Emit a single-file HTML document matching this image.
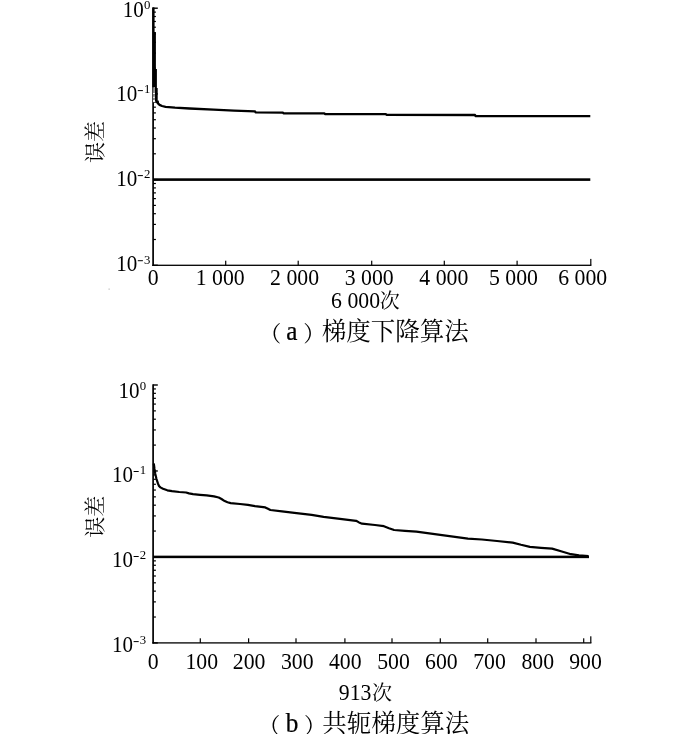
<!DOCTYPE html>
<html><head><meta charset="utf-8"><title>chart</title>
<style>html,body{margin:0;padding:0;background:#fff;}body{width:700px;height:734px;overflow:hidden;font-family:"Liberation Serif",serif;}svg{display:block;will-change:transform}</style>
</head><body>
<svg width="700" height="734" viewBox="0 0 700 734">
<rect width="700" height="734" fill="#fff"/>
<title>误差 — (a) 梯度下降算法 6 000次; (b) 共轭梯度算法 913次</title>
<g fill="#000" stroke="none" font-family="'Liberation Serif', 'Noto Serif CJK SC', serif">
<rect x="152.25" y="7.50" width="1.7" height="258.50"/>
<rect x="152.25" y="264.65" width="439.15" height="1.3"/>
<rect x="225.10" y="260.70" width="1.2" height="4.6"/>
<rect x="297.60" y="260.70" width="1.2" height="4.6"/>
<rect x="371.10" y="260.70" width="1.2" height="4.6"/>
<rect x="443.70" y="260.70" width="1.2" height="4.6"/>
<rect x="516.50" y="260.70" width="1.2" height="4.6"/>
<rect x="590.20" y="258.90" width="1.2" height="6.4"/>
<rect x="153.10" y="7.50" width="4.7" height="1.4"/>
<rect x="153.10" y="67.50" width="2.8" height="1.2"/>
<rect x="153.10" y="52.41" width="2.8" height="1.2"/>
<rect x="153.10" y="41.70" width="2.8" height="1.2"/>
<rect x="153.10" y="33.40" width="2.8" height="1.2"/>
<rect x="153.10" y="26.61" width="2.8" height="1.2"/>
<rect x="153.10" y="20.88" width="2.8" height="1.2"/>
<rect x="153.10" y="15.91" width="2.8" height="1.2"/>
<rect x="153.10" y="11.52" width="2.8" height="1.2"/>
<rect x="153.10" y="93.20" width="4.7" height="1.4"/>
<rect x="153.10" y="153.20" width="2.8" height="1.2"/>
<rect x="153.10" y="138.11" width="2.8" height="1.2"/>
<rect x="153.10" y="127.40" width="2.8" height="1.2"/>
<rect x="153.10" y="119.10" width="2.8" height="1.2"/>
<rect x="153.10" y="112.31" width="2.8" height="1.2"/>
<rect x="153.10" y="106.58" width="2.8" height="1.2"/>
<rect x="153.10" y="101.61" width="2.8" height="1.2"/>
<rect x="153.10" y="97.22" width="2.8" height="1.2"/>
<rect x="153.10" y="178.90" width="4.7" height="1.4"/>
<rect x="153.10" y="238.90" width="2.8" height="1.2"/>
<rect x="153.10" y="223.81" width="2.8" height="1.2"/>
<rect x="153.10" y="213.10" width="2.8" height="1.2"/>
<rect x="153.10" y="204.80" width="2.8" height="1.2"/>
<rect x="153.10" y="198.01" width="2.8" height="1.2"/>
<rect x="153.10" y="192.28" width="2.8" height="1.2"/>
<rect x="153.10" y="187.31" width="2.8" height="1.2"/>
<rect x="153.10" y="182.92" width="2.8" height="1.2"/>
<rect x="153.10" y="264.60" width="4.7" height="1.4"/>
<rect x="153.10" y="178.30" width="437.20" height="2.6"/>
<polyline points="157.4,101.5 158.2,103.6 159.6,104.9 162.0,106.0 165.6,106.8 175.0,107.6 189.6,108.5 213.6,109.7 234.0,110.7 255.0,111.3 255.5,112.3 283.0,112.6 283.5,113.3 324.5,113.4 325.0,114.1 386.0,114.2 386.5,114.9 475.0,115.0 475.5,116.1 590.3,116.2" fill="none" stroke="#000" stroke-width="2.3" stroke-linejoin="round" stroke-linecap="butt"/>
<polygon points="152.25,7.5 154.6,7.5 154.6,32 155.9,32 155.9,68.9 156.9,68.9 156.9,88 157.7,88 157.7,100.4 158.7,100.4 158.7,103.6 156.6,103.6 155,101 154.9,87.3 152.25,87.3"/>
<rect x="153.1" y="87.3" width="1.8" height="14" fill="#8a8a8a"/>
<rect x="153.1" y="93.0" width="1.8" height="1.0" fill="#fff"/>
<rect x="153.1" y="96.8" width="1.8" height="1.0" fill="#fff"/>
<rect x="153.1" y="100.0" width="1.8" height="2.2" fill="#fff"/>
<rect x="152.25" y="384.30" width="1.7" height="259.30"/>
<rect x="152.25" y="642.25" width="439.15" height="1.3"/>
<rect x="199.70" y="638.30" width="1.2" height="4.6"/>
<rect x="248.00" y="638.30" width="1.2" height="4.6"/>
<rect x="295.40" y="638.30" width="1.2" height="4.6"/>
<rect x="344.30" y="638.30" width="1.2" height="4.6"/>
<rect x="391.40" y="638.30" width="1.2" height="4.6"/>
<rect x="439.70" y="638.30" width="1.2" height="4.6"/>
<rect x="487.10" y="638.30" width="1.2" height="4.6"/>
<rect x="535.40" y="638.30" width="1.2" height="4.6"/>
<rect x="583.10" y="638.30" width="1.2" height="4.6"/>
<rect x="590.20" y="636.30" width="1.2" height="6.6"/>
<rect x="153.10" y="384.30" width="4.7" height="1.4"/>
<rect x="153.10" y="444.49" width="2.8" height="1.2"/>
<rect x="153.10" y="429.35" width="2.8" height="1.2"/>
<rect x="153.10" y="418.61" width="2.8" height="1.2"/>
<rect x="153.10" y="410.28" width="2.8" height="1.2"/>
<rect x="153.10" y="403.47" width="2.8" height="1.2"/>
<rect x="153.10" y="397.72" width="2.8" height="1.2"/>
<rect x="153.10" y="392.73" width="2.8" height="1.2"/>
<rect x="153.10" y="388.33" width="2.8" height="1.2"/>
<rect x="153.10" y="470.27" width="4.7" height="1.4"/>
<rect x="153.10" y="530.45" width="2.8" height="1.2"/>
<rect x="153.10" y="515.32" width="2.8" height="1.2"/>
<rect x="153.10" y="504.58" width="2.8" height="1.2"/>
<rect x="153.10" y="496.25" width="2.8" height="1.2"/>
<rect x="153.10" y="489.44" width="2.8" height="1.2"/>
<rect x="153.10" y="483.68" width="2.8" height="1.2"/>
<rect x="153.10" y="478.70" width="2.8" height="1.2"/>
<rect x="153.10" y="474.30" width="2.8" height="1.2"/>
<rect x="153.10" y="556.23" width="4.7" height="1.4"/>
<rect x="153.10" y="616.42" width="2.8" height="1.2"/>
<rect x="153.10" y="601.28" width="2.8" height="1.2"/>
<rect x="153.10" y="590.54" width="2.8" height="1.2"/>
<rect x="153.10" y="582.21" width="2.8" height="1.2"/>
<rect x="153.10" y="575.40" width="2.8" height="1.2"/>
<rect x="153.10" y="569.65" width="2.8" height="1.2"/>
<rect x="153.10" y="564.66" width="2.8" height="1.2"/>
<rect x="153.10" y="560.27" width="2.8" height="1.2"/>
<rect x="153.10" y="642.20" width="4.7" height="1.4"/>
<rect x="153.10" y="555.65" width="435.90" height="2.5"/>
<polyline points="153.8,463.5 154.5,469.0 155.3,474.0 156.5,479.0 157.9,483.4 159.0,486.0 160.4,487.4 163.0,488.8 167.3,490.3 172.0,491.2 179.3,492.0 186.1,492.5 189.0,493.4 193.0,494.2 200.0,494.8 206.7,495.4 214.0,496.4 218.7,497.5 221.5,499.0 224.7,501.1 227.5,502.3 230.7,503.1 240.0,504.0 247.9,504.9 255.0,506.1 265.3,507.4 268.0,508.8 270.4,510.0 282.0,511.4 294.4,512.9 311.6,514.8 323.6,516.9 340.0,518.9 356.1,520.8 359.0,522.4 362.1,523.7 375.0,525.0 383.9,526.2 389.0,528.2 394.1,530.0 405.0,530.9 416.4,531.7 442.1,535.1 467.9,538.6 481.9,539.5 497.0,541.0 512.7,542.6 521.0,544.8 529.9,546.9 541.0,547.8 552.1,548.6 561.0,551.3 571.0,554.2 579.0,555.3 588.5,556.2" fill="none" stroke="#000" stroke-width="2.2" stroke-linejoin="round" stroke-linecap="butt"/>
<text transform="translate(122.70,16.50) scale(0.925,1)" font-size="22.8" text-anchor="start" >10</text>
<text transform="translate(144.00,9.00) scale(0.955,1)" font-size="13.4" text-anchor="start" >0</text>
<text transform="translate(116.20,100.90) scale(0.925,1)" font-size="22.8" text-anchor="start" >10</text>
<rect x="137.80" y="90.10" width="5.1" height="1.0"/>
<text transform="translate(143.90,93.40) scale(0.955,1)" font-size="13.4" text-anchor="start" >1</text>
<text transform="translate(116.20,185.90) scale(0.925,1)" font-size="22.8" text-anchor="start" >10</text>
<rect x="137.80" y="175.10" width="5.1" height="1.0"/>
<text transform="translate(143.90,178.40) scale(0.955,1)" font-size="13.4" text-anchor="start" >2</text>
<text transform="translate(116.20,270.70) scale(0.925,1)" font-size="22.8" text-anchor="start" >10</text>
<rect x="137.80" y="260.20" width="5.1" height="1.0"/>
<text transform="translate(143.90,263.50) scale(0.955,1)" font-size="13.4" text-anchor="start" >3</text>
<text transform="translate(118.40,397.50) scale(0.925,1)" font-size="22.8" text-anchor="start" >10</text>
<text transform="translate(139.70,389.60) scale(0.955,1)" font-size="13.4" text-anchor="start" >0</text>
<text transform="translate(112.00,481.70) scale(0.925,1)" font-size="22.8" text-anchor="start" >10</text>
<rect x="133.60" y="471.00" width="5.1" height="1.0"/>
<text transform="translate(139.70,474.30) scale(0.955,1)" font-size="13.4" text-anchor="start" >1</text>
<text transform="translate(112.00,566.70) scale(0.925,1)" font-size="22.8" text-anchor="start" >10</text>
<rect x="133.60" y="556.00" width="5.1" height="1.0"/>
<text transform="translate(139.70,559.30) scale(0.955,1)" font-size="13.4" text-anchor="start" >2</text>
<text transform="translate(112.00,651.60) scale(0.925,1)" font-size="22.8" text-anchor="start" >10</text>
<rect x="133.60" y="641.10" width="5.1" height="1.0"/>
<text transform="translate(139.70,644.40) scale(0.955,1)" font-size="13.4" text-anchor="start" >3</text>
<text transform="translate(153.10,284.60) scale(0.955,1)" font-size="22.8" text-anchor="middle" xml:space="preserve">0</text>
<text transform="translate(220.20,284.60) scale(0.955,1)" font-size="22.8" text-anchor="middle" xml:space="preserve">1 000</text>
<text transform="translate(294.55,284.60) scale(0.955,1)" font-size="22.8" text-anchor="middle" xml:space="preserve">2 000</text>
<text transform="translate(369.25,284.60) scale(0.955,1)" font-size="22.8" text-anchor="middle" xml:space="preserve">3 000</text>
<text transform="translate(443.80,284.60) scale(0.955,1)" font-size="22.8" text-anchor="middle" xml:space="preserve">4 000</text>
<text transform="translate(513.50,284.60) scale(0.955,1)" font-size="22.8" text-anchor="middle" xml:space="preserve">5 000</text>
<text transform="translate(582.75,284.60) scale(0.955,1)" font-size="22.8" text-anchor="middle" xml:space="preserve">6 000</text>
<text transform="translate(153.10,668.50) scale(0.955,1)" font-size="22.8" text-anchor="middle" xml:space="preserve">0</text>
<text transform="translate(201.70,668.50) scale(0.955,1)" font-size="22.8" text-anchor="middle" xml:space="preserve">100</text>
<text transform="translate(249.15,668.50) scale(0.955,1)" font-size="22.8" text-anchor="middle" xml:space="preserve">200</text>
<text transform="translate(297.25,668.50) scale(0.955,1)" font-size="22.8" text-anchor="middle" xml:space="preserve">300</text>
<text transform="translate(345.25,668.50) scale(0.955,1)" font-size="22.8" text-anchor="middle" xml:space="preserve">400</text>
<text transform="translate(393.50,668.50) scale(0.955,1)" font-size="22.8" text-anchor="middle" xml:space="preserve">500</text>
<text transform="translate(441.35,668.50) scale(0.955,1)" font-size="22.8" text-anchor="middle" xml:space="preserve">600</text>
<text transform="translate(489.55,668.50) scale(0.955,1)" font-size="22.8" text-anchor="middle" xml:space="preserve">700</text>
<text transform="translate(537.80,668.50) scale(0.955,1)" font-size="22.8" text-anchor="middle" xml:space="preserve">800</text>
<text transform="translate(585.55,668.50) scale(0.955,1)" font-size="22.8" text-anchor="middle" xml:space="preserve">900</text>
<text transform="translate(331.10,308.00) scale(0.955,1)" font-size="22.8" text-anchor="start" xml:space="preserve">6 000</text>
<text x="379.7" y="308.2" font-size="20" text-anchor="start">次</text>
<text transform="translate(338.80,700.00) scale(0.955,1)" font-size="22.8" text-anchor="start" >913</text>
<text x="372.0" y="700.3" font-size="20" text-anchor="start">次</text>
<text transform="translate(101.9,163.0) rotate(-90)" font-size="21" text-anchor="start">误差</text>
<text transform="translate(101.7,537.8) rotate(-90)" font-size="21" text-anchor="start">误差</text>
<text x="259.3" y="340.5" font-size="22" text-anchor="start">（</text>
<text x="303.2" y="340.5" font-size="22" text-anchor="start">）</text>
<text transform="translate(286.20,339.50) scale(0.955,1)" font-size="26.4" text-anchor="start" stroke="#000" stroke-width="0.25">a</text>
<text x="321.8" y="340.2" font-size="24.5" text-anchor="start">梯度下降算法</text>
<text x="258.3" y="732.6" font-size="22" text-anchor="start">（</text>
<text x="303.9" y="732.6" font-size="22" text-anchor="start">）</text>
<text transform="translate(285.80,731.50) scale(0.955,1)" font-size="26.4" text-anchor="start" stroke="#000" stroke-width="0.25">b</text>
<text x="322.2" y="732.4" font-size="24.5" text-anchor="start">共轭梯度算法</text>
<rect x="108.6" y="288.6" width="1" height="1" fill="#999"/>
</g></svg>
</body></html>
